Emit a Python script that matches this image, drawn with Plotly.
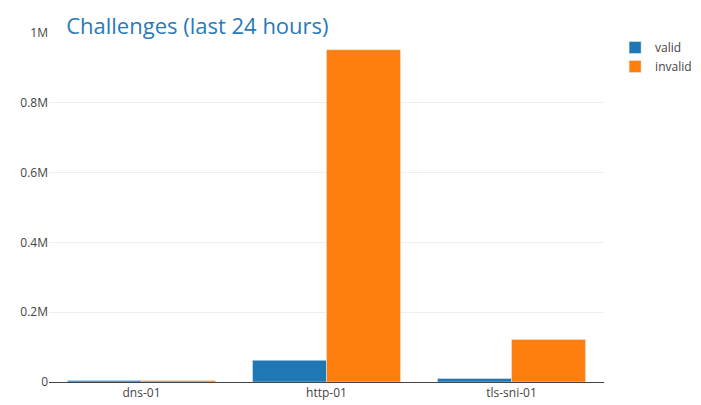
import plotly.graph_objects as go

categories = ["dns-01", "http-01", "tls-sni-01"]
valid = [4000, 62000, 10000]
invalid = [4000, 952000, 122000]

fig = go.Figure()
fig.add_bar(x=categories, y=valid, name="valid", marker_color="#1f77b4")
fig.add_bar(x=categories, y=invalid, name="invalid", marker_color="#ff7f0e")
fig.update_layout(
    width=701, height=405,
    margin=dict(l=40, r=91, t=25, b=28),
    barmode="group", bargap=0.2, bargroupgap=0,
    font=dict(family="Open Sans", size=12, color="#444"),
    title=dict(text="Challenges (last 24 hours)", x=0.083, xanchor="left", y=0.955, yanchor="middle",
               font=dict(size=22, color="#2a7ab8")),
    paper_bgcolor="white", plot_bgcolor="white",
    legend=dict(x=1.02, y=1, xanchor="left", yanchor="top", font=dict(size=12)),
    xaxis=dict(showline=True, linecolor="#444", linewidth=1, ticks=""),
    yaxis=dict(range=[0, 1000000], tickvals=[0, 200000, 400000, 600000, 800000, 1000000],
               ticktext=["0", "0.2M", "0.4M", "0.6M", "0.8M", "1M"],
               gridcolor="#eee", zeroline=False),
)
fig.write_html("out.html")
